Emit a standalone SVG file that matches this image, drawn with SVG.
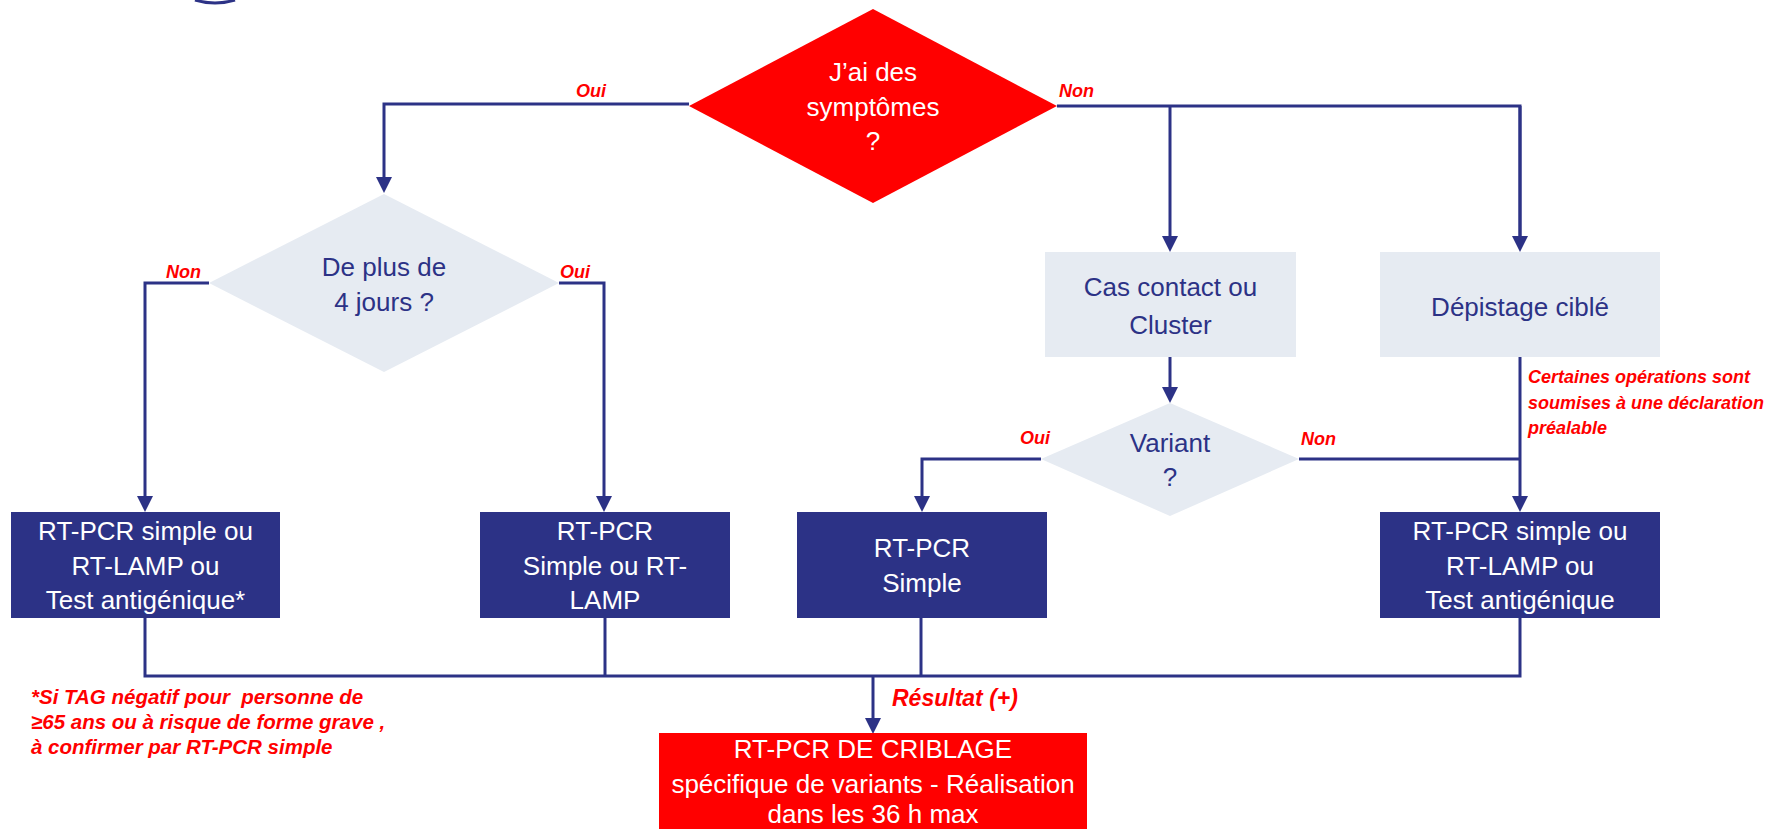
<svg xmlns="http://www.w3.org/2000/svg" width="1772" height="829" viewBox="0 0 1772 829">
<defs>
<style>
.ln{fill:none;stroke:#2C3286;stroke-width:3}
.lnA{fill:none;stroke:#2C3286;stroke-width:3;marker-end:url(#ah)}
.light{fill:#E6EBF2}
.dark{fill:#2C3286}
.red{fill:#FF0000}
.t{font-family:"Liberation Sans",Arial,sans-serif;font-size:26px;text-anchor:middle}
.tn{fill:#2C3286}
.tw{fill:#FFFFFF}
.lab{font-family:"Liberation Sans",Arial,sans-serif;font-size:18px;font-weight:bold;font-style:italic;fill:#FF0000}
.note{font-family:"Liberation Sans",Arial,sans-serif;font-weight:bold;font-style:italic;fill:#FF0000;white-space:pre}
</style>
<marker id="ah" markerUnits="userSpaceOnUse" markerWidth="16" markerHeight="16" viewBox="0 0 16 16" refX="6" refY="8" orient="auto">
<path d="M0,0 L16,8 L0,16 z" fill="#2C3286"/>
</marker>
</defs>
<rect width="1772" height="829" fill="#FFFFFF"/>
<path d="M195,0 Q215,6 235,0" fill="none" stroke="#2C3286" stroke-width="3"/>

<g id="connectors">
<path class="lnA" d="M689,104 H384 V183"/>
<path class="ln" d="M1057,106 H1520 V242"/>
<path class="lnA" d="M1520,106 V242"/>
<path class="lnA" d="M1170,106 V242"/>
<path class="lnA" d="M209,283 H145 V502"/>
<path class="lnA" d="M559,283 H604 V502"/>
<path class="lnA" d="M1170,357 V393"/>
<path class="lnA" d="M1041,459 H922 V502"/>
<path class="ln" d="M1299,459 H1520"/>
<path class="lnA" d="M1520,357 V502"/>
<path class="ln" d="M145,618 V676 H1520 V618"/>
<path class="ln" d="M605,618 V676"/>
<path class="ln" d="M921,618 V676"/>
<path class="lnA" d="M873,676 V724"/>
<text class="lab" x="576" y="97">Oui</text>
<text class="lab" x="1059" y="97">Non</text>
<text class="lab" x="166" y="278">Non</text>
<text class="lab" x="560" y="278">Oui</text>
<text class="lab" x="1020" y="444">Oui</text>
<text class="lab" x="1301" y="445">Non</text>
<text class="note" x="892" y="706" font-size="23">Résultat (+)</text>
</g>

<g id="n-symptomes">
<polygon class="red" points="873,9 1057,106 873,203 689,106"/>
<text class="t tw" x="873" y="81">J’ai des</text>
<text class="t tw" x="873" y="116">symptômes</text>
<text class="t tw" x="873" y="150">?</text>
</g>

<g id="n-4jours">
<polygon class="light" points="384,194 559,283 384,372 209,283"/>
<text class="t tn" x="384" y="276">De plus de</text>
<text class="t tn" x="384" y="311">4 jours ?</text>
</g>

<g id="n-cas-contact">
<rect class="light" x="1045" y="252" width="251" height="105"/>
<text class="t tn" x="1170.5" y="296">Cas contact ou</text>
<text class="t tn" x="1170.5" y="334">Cluster</text>
</g>

<g id="n-depistage">
<rect class="light" x="1380" y="252" width="280" height="105"/>
<text class="t tn" x="1520" y="316">Dépistage ciblé</text>
</g>

<g id="n-variant">
<polygon class="light" points="1170,403 1299,459 1170,516 1041,459"/>
<text class="t tn" x="1170" y="452">Variant</text>
<text class="t tn" x="1170" y="486">?</text>
</g>

<g id="n-box1">
<rect class="dark" x="11" y="512" width="269" height="106"/>
<text class="t tw" x="145.5" y="540">RT-PCR simple ou</text>
<text class="t tw" x="145.5" y="575">RT-LAMP ou</text>
<text class="t tw" x="145.5" y="609">Test antigénique*</text>
</g>

<g id="n-box2">
<rect class="dark" x="480" y="512" width="250" height="106"/>
<text class="t tw" x="605" y="540">RT-PCR</text>
<text class="t tw" x="605" y="575">Simple ou RT-</text>
<text class="t tw" x="605" y="609">LAMP</text>
</g>

<g id="n-box3">
<rect class="dark" x="797" y="512" width="250" height="106"/>
<text class="t tw" x="922" y="557">RT-PCR</text>
<text class="t tw" x="922" y="592">Simple</text>
</g>

<g id="n-box4">
<rect class="dark" x="1380" y="512" width="280" height="106"/>
<text class="t tw" x="1520" y="540">RT-PCR simple ou</text>
<text class="t tw" x="1520" y="575">RT-LAMP ou</text>
<text class="t tw" x="1520" y="609">Test antigénique</text>
</g>

<g id="n-criblage">
<rect class="red" x="659" y="733" width="428" height="96"/>
<text class="t tw" x="873" y="758" font-size="24">RT-PCR DE CRIBLAGE</text>
<text class="t tw" x="873" y="793" font-size="20">spécifique de variants - Réalisation</text>
<text class="t tw" x="873" y="823" font-size="20.5">dans les 36 h max</text>
</g>

<g id="annotation-depistage">
<text class="note" x="1528" y="383" font-size="18">Certaines opérations sont</text>
<text class="note" x="1528" y="409" font-size="18">soumises à une déclaration</text>
<text class="note" x="1528" y="434" font-size="18">préalable</text>
</g>

<g id="footnote">
<text class="note" x="31" y="704" font-size="20.5">*Si TAG négatif pour  personne de</text>
<text class="note" x="31" y="729" font-size="20.5">≥65 ans ou à risque de forme grave ,</text>
<text class="note" x="31" y="754" font-size="20.5">à confirmer par RT-PCR simple</text>
</g>
</svg>
